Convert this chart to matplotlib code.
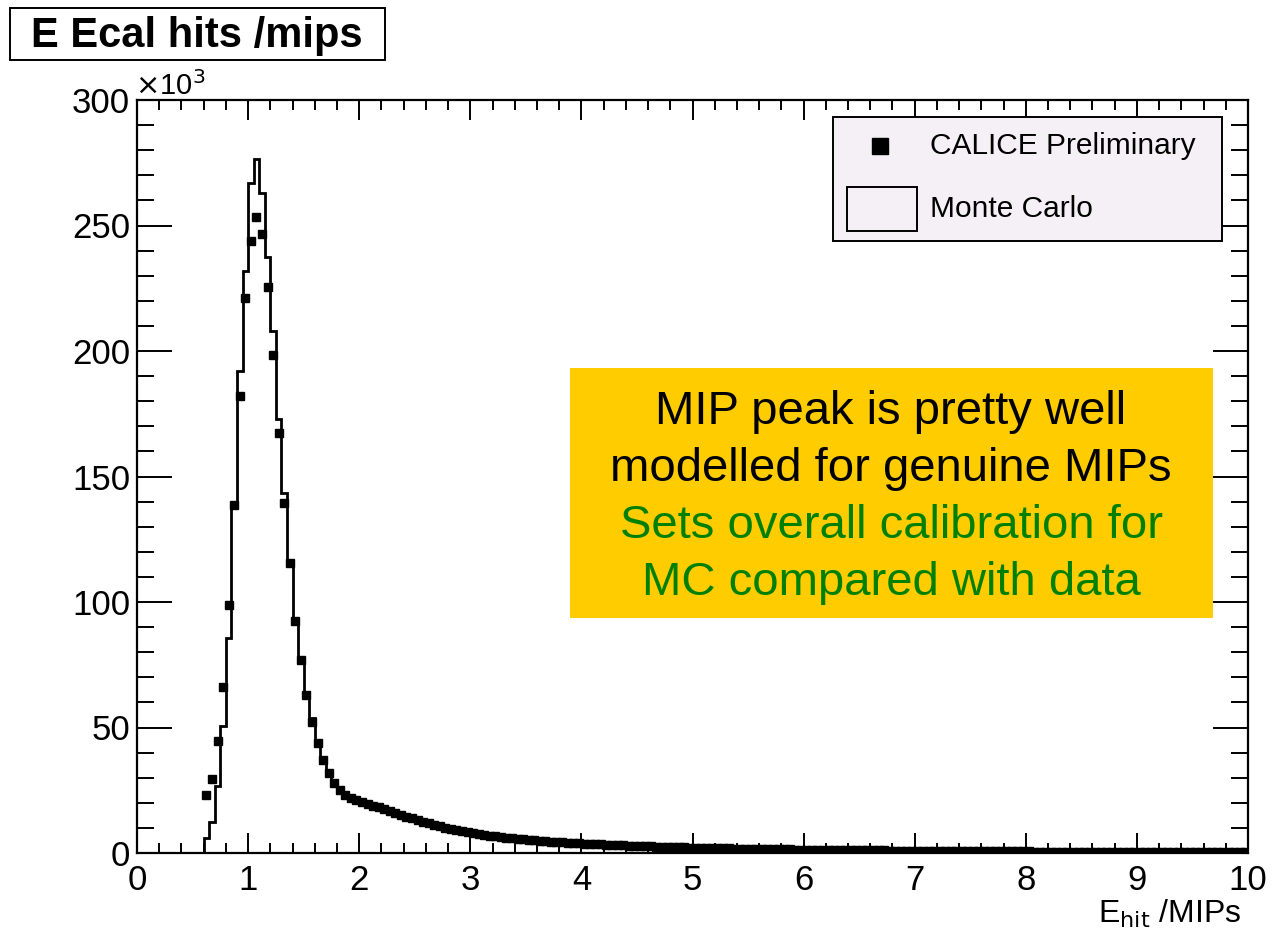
import numpy as np
import matplotlib
matplotlib.use("Agg")
import matplotlib.pyplot as plt
from matplotlib.lines import Line2D
from matplotlib.patches import Rectangle
from matplotlib.ticker import MultipleLocator

plt.rcParams['font.family'] = ['Liberation Sans', 'DejaVu Sans']

# binning of both histograms (MIPs)
bin_lo = 0.6
bin_w = 0.05

# data points (x10^3 hits), one per bin centre from 0.625 to 9.975
data_vals = [
    23.0, 29.5, 44.5, 66.0, 99.0, 138.5, 182.0, 221.0, 244.0, 253.5,
    246.5, 225.5, 198.5, 167.5, 139.5, 115.5, 92.5, 77.0, 63.0, 52.0,
    44.0, 37.0, 32.0, 28.0, 25.0, 23.0, 22.0, 21.0, 20.3, 19.6,
    18.9, 18.2, 17.4, 16.7, 15.9, 15.2, 14.5, 13.8, 13.1, 12.4,
    11.8, 11.2, 10.6, 10.1, 9.6, 9.1, 8.7, 8.3, 7.9, 7.5,
    7.2, 6.9, 6.6, 6.3, 6.0, 5.8, 5.6, 5.4, 5.2, 5.0,
    4.85, 4.7, 4.55, 4.4, 4.25, 4.1, 3.95, 3.85, 3.75, 3.6,
    3.5, 3.4, 3.3, 3.2, 3.1, 3.0, 2.9, 2.8, 2.75, 2.65,
    2.6, 2.5, 2.45, 2.4, 2.3, 2.25, 2.2, 2.1, 2.05, 2.0,
    1.95, 1.9, 1.85, 1.8, 1.8, 1.75, 1.7, 1.65, 1.6, 1.6,
    1.55, 1.5, 1.5, 1.45, 1.4, 1.4, 1.35, 1.35, 1.3, 1.3,
    1.25, 1.25, 1.2, 1.2, 1.15, 1.15, 1.1, 1.1, 1.05, 1.05,
    1.0, 1.0, 1.0, 0.95, 0.95, 0.9, 0.9, 0.9, 0.85, 0.85,
    0.85, 0.8, 0.8, 0.8, 0.75, 0.75, 0.75, 0.7, 0.7, 0.7,
    0.7, 0.65, 0.65, 0.65, 0.65, 0.6, 0.6, 0.6, 0.6, 0.55,
    0.55, 0.55, 0.55, 0.55, 0.5, 0.5, 0.5, 0.5, 0.5, 0.45,
    0.45, 0.45, 0.45, 0.45, 0.45, 0.4, 0.4, 0.4, 0.4, 0.4,
    0.4, 0.4, 0.35, 0.35, 0.35, 0.35, 0.35, 0.35, 0.35, 0.3,
    0.3, 0.3, 0.3, 0.3, 0.3, 0.3, 0.3, 0.3,
]

# Monte Carlo histogram (x10^3), bins 0.60 .. 9.95, empty above 7.2
mc_vals = [
    5.8, 12.4, 26.5, 50.4, 85.7, 138.0, 192.0, 232.0, 267.0, 276.5,
    263.0, 237.5, 208.0, 173.0, 143.5, 115.8, 93.6, 76.6, 64.0, 53.7,
    42.7, 36.5, 31.0, 27.0, 24.0, 22.2, 21.0, 20.2, 19.5, 18.9,
    18.3, 17.6, 16.9, 16.1, 15.4, 14.7, 14.0, 13.3, 12.6, 12.0,
    11.4, 10.8, 10.3, 9.8, 9.3, 8.8, 8.4, 8.0, 7.6, 7.3,
    7.0, 6.7, 6.4, 6.1, 5.9, 5.7, 5.5, 5.3, 5.1, 4.9,
    4.75, 4.6, 4.45, 4.3, 4.15, 4.0, 3.9, 3.8, 3.7, 3.55,
    3.45, 3.35, 3.25, 3.15, 3.05, 2.95, 2.85, 2.75, 2.7, 2.6,
    2.55, 2.45, 2.4, 2.35, 2.25, 2.2, 2.15, 2.05, 2.0, 1.95,
    1.9, 1.85, 1.8, 1.75, 1.75, 1.7, 1.65, 1.6, 1.55, 1.55,
    1.5, 1.45, 1.45, 1.4, 1.35, 1.35, 1.3, 1.3, 1.25, 1.25,
    1.2, 1.2, 1.15, 1.15, 1.1, 1.1, 1.05, 1.05, 1.0, 1.0,
    0.95, 0.95, 0.95, 0.9, 0.9, 0.85, 0.85, 0.85, 0.8, 0.8,
    0.8, 0.75,
] + [0.0] * 56

labels = ['CALICE Preliminary', 'Monte Carlo']

edges = bin_lo + bin_w * np.arange(len(mc_vals) + 1)
centres = bin_lo + bin_w * (np.arange(len(data_vals)) + 0.5)

W, H = 1272, 935
fig = plt.figure(figsize=(W / 100, H / 100), dpi=100)
ax = fig.add_axes([137 / W, 1 - 853 / H, 1111 / W, 753 / H])

ax.stairs(mc_vals, edges, color='black', lw=2.0, baseline=0)
ax.plot(centres, data_vals, ls='none', marker='s', ms=5.5, color='black', mec='black')

ax.set_xlim(0, 10)
ax.set_ylim(0, 300)
ax.xaxis.set_major_locator(MultipleLocator(1))
ax.xaxis.set_minor_locator(MultipleLocator(0.2))
ax.yaxis.set_major_locator(MultipleLocator(50))
ax.yaxis.set_minor_locator(MultipleLocator(10))
ax.tick_params(which='both', direction='in', top=True, right=True,
               width=1.4, labelsize=25, colors='black')
ax.tick_params(axis='x', which='major', length=14.5, pad=8)
ax.tick_params(axis='x', which='minor', length=7.2)
ax.tick_params(axis='y', which='major', length=25, pad=5)
ax.tick_params(axis='y', which='minor', length=12)
for s in ax.spines.values():
    s.set_linewidth(1.6)

fig.text(135 / W, 1 - 101 / H, r'$\times$10$^{3}$', fontsize=21,
         ha='left', va='bottom')
fig.text(1241 / W, 1 - 930 / H, r'E$_{\mathrm{hit}}$ /MIPs', fontsize=23,
         ha='right', va='bottom')

# legend, drawn by hand in ROOT TLegend style
fig.patches.append(Rectangle((833 / W, 1 - 241 / H), 389 / W, 124 / H,
                             transform=fig.transFigure, fc='#f5f0f5', ec='black', lw=1.4))
fig.lines.append(Line2D([880 / W], [1 - 146 / H], transform=fig.transFigure,
                        ls='none', marker='s', ms=11, color='black'))
fig.patches.append(Rectangle((847 / W, 1 - 231 / H), 70 / W, 44 / H,
                             transform=fig.transFigure, fc='#f5f0f5', ec='black', lw=1.4))
fig.text(930 / W, 1 - 146 / H, labels[0], fontsize=21.5, ha='left', va='center')
fig.text(930 / W, 1 - 209 / H, labels[1], fontsize=21.5, ha='left', va='center')

# title box
fig.patches.append(Rectangle((10 / W, 1 - 60 / H), 375 / W, 52 / H,
                             transform=fig.transFigure, fc='white', ec='black', lw=1.4))
fig.text(197 / W, 1 - 36 / H, 'E Ecal hits /mips', fontsize=30,
         fontweight='bold', ha='center', va='center')

# comment box
fig.patches.append(Rectangle((570 / W, 1 - 618 / H), 643 / W, 250 / H,
                             transform=fig.transFigure, fc='#ffcc00', ec='none'))
lines = [('MIP peak is pretty well', 'black'),
         ('modelled for genuine MIPs', 'black'),
         ('Sets overall calibration for', '#008000'),
         ('MC compared with data', '#008000')]
for i, (txt, col) in enumerate(lines):
    fig.text(891 / W, 1 - (412 + 57 * i) / H, txt, fontsize=34,
             color=col, ha='center', va='center')

fig.savefig('out.png', dpi=100)
